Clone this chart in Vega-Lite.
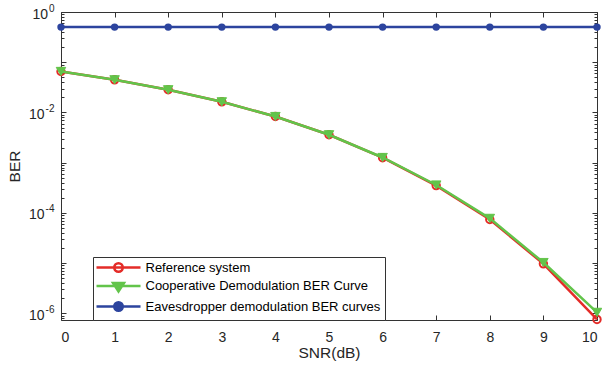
{
  "$schema": "https://vega.github.io/schema/vega-lite/v6.json",
  "width": 536,
  "height": 308,
  "autosize": {"type": "none"},
  "padding": {"left": 61, "top": 12, "right": 5, "bottom": 49},
  "config": {
    "view": {"stroke": "#333333", "strokeWidth": 1},
    "font": "Liberation Sans",
    "axis": {
      "grid": false, "domain": false,
      "labelColor": "#262626", "titleColor": "#262626", "tickColor": "#333333",
      "labelFont": "Liberation Sans", "titleFont": "Liberation Sans",
      "labelFontSize": 14, "titleFontSize": 15.5, "titleFontWeight": "normal"
    }
  },
  "data": {"values": [
    {"x": 0, "y": 0.0655, "series": "Reference system"},
    {"x": 1, "y": 0.0447, "series": "Reference system"},
    {"x": 2, "y": 0.0283, "series": "Reference system"},
    {"x": 3, "y": 0.0163, "series": "Reference system"},
    {"x": 4, "y": 0.0083, "series": "Reference system"},
    {"x": 5, "y": 0.0036, "series": "Reference system"},
    {"x": 6, "y": 0.00126, "series": "Reference system"},
    {"x": 7, "y": 0.00035, "series": "Reference system"},
    {"x": 8, "y": 0.000074, "series": "Reference system"},
    {"x": 9, "y": 0.0000097, "series": "Reference system"},
    {"x": 10, "y": 0.00000076, "series": "Reference system"},
    {"x": 0, "y": 0.0655, "series": "Cooperative Demodulation BER Curve"},
    {"x": 1, "y": 0.0447, "series": "Cooperative Demodulation BER Curve"},
    {"x": 2, "y": 0.0283, "series": "Cooperative Demodulation BER Curve"},
    {"x": 3, "y": 0.0163, "series": "Cooperative Demodulation BER Curve"},
    {"x": 4, "y": 0.0083, "series": "Cooperative Demodulation BER Curve"},
    {"x": 5, "y": 0.0036, "series": "Cooperative Demodulation BER Curve"},
    {"x": 6, "y": 0.00127, "series": "Cooperative Demodulation BER Curve"},
    {"x": 7, "y": 0.00036, "series": "Cooperative Demodulation BER Curve"},
    {"x": 8, "y": 0.000078, "series": "Cooperative Demodulation BER Curve"},
    {"x": 9, "y": 0.0000103, "series": "Cooperative Demodulation BER Curve"},
    {"x": 10, "y": 0.00000105, "series": "Cooperative Demodulation BER Curve"},
    {"x": 0, "y": 0.5, "series": "Eavesdropper demodulation BER curves"},
    {"x": 1, "y": 0.5, "series": "Eavesdropper demodulation BER curves"},
    {"x": 2, "y": 0.5, "series": "Eavesdropper demodulation BER curves"},
    {"x": 3, "y": 0.5, "series": "Eavesdropper demodulation BER curves"},
    {"x": 4, "y": 0.5, "series": "Eavesdropper demodulation BER curves"},
    {"x": 5, "y": 0.5, "series": "Eavesdropper demodulation BER curves"},
    {"x": 6, "y": 0.5, "series": "Eavesdropper demodulation BER curves"},
    {"x": 7, "y": 0.5, "series": "Eavesdropper demodulation BER curves"},
    {"x": 8, "y": 0.5, "series": "Eavesdropper demodulation BER curves"},
    {"x": 9, "y": 0.5, "series": "Eavesdropper demodulation BER curves"},
    {"x": 10, "y": 0.5, "series": "Eavesdropper demodulation BER curves"}
  ]},
  "encoding": {
    "color": {
      "field": "series", "type": "nominal",
      "scale": {
        "domain": ["Reference system", "Cooperative Demodulation BER Curve", "Eavesdropper demodulation BER curves"],
        "range": ["#e42c28", "#62c44a", "#2c449e"]
      },
      "legend": {
        "orient": "none", "legendX": 32, "legendY": 245,
        "title": null, "direction": "vertical",
        "fillColor": "white", "strokeColor": "#333333", "padding": 4,
        "labelFontSize": 13, "labelFont": "Liberation Sans", "labelColor": "#000000",
        "labelLimit": 400, "labelOffset": 20.5, "symbolOffset": 15, "rowPadding": 0.5,
        "symbolSize": 100, "symbolStrokeWidth": 2.5,
        "encode": {
          "symbols": {
            "update": {
              "shape": {"signal": "datum.value === 'Reference system' ? 'M-4.4,0H4.4M-0.85,0A0.85,0.85,0,1,0,0.85,0A0.85,0.85,0,1,0,-0.85,0Z' : datum.value === 'Cooperative Demodulation BER Curve' ? 'M-4.4,0H4.4M-1.1,-0.6L1.1,-0.6L0,1.1Z' : 'M-4.4,0H4.4M-0.85,0A0.85,0.85,0,1,0,0.85,0A0.85,0.85,0,1,0,-0.85,0Z'"},
              "fill": {"signal": "scale('color', datum.value)"},
              "fillOpacity": {"signal": "datum.value === 'Reference system' ? 0 : 1"},
              "stroke": {"signal": "scale('color', datum.value)"},
              "strokeWidth": {"value": 2.5},
              "size": {"value": 100},
              "opacity": {"value": 1}
            }
          }
        }
      }
    }
  },
  "layer": [
    {
      "transform": [{"filter": "datum.series === 'Reference system'"}],
      "mark": {"type": "line", "strokeWidth": 2.5},
      "encoding": {
        "x": {"field": "x", "type": "quantitative", "scale": {"domain": [0, 10], "nice": false, "zero": false},
              "axis": {"orient": "bottom", "values": [0,1,2,3,4,5,6,7,8,9,10], "format": "d", "ticks": false, "labelPadding": 10, "labelOverlap": false, "title": "SNR(dB)", "titlePadding": 1.5}},
        "y": {"field": "y", "type": "quantitative", "scale": {"type": "log", "domain": [0.00000074, 1], "nice": false},
              "axis": {"orient": "left", "values": [1, 0.01, 0.0001, 0.000001], "labelExpr": "'10'", "ticks": false,
                       "labelPadding": {"condition": {"test": "datum.value > 0.5", "value": 13.5}, "value": 17},
                       "labelOffset": 2, "title": "BER", "titlePadding": 6}}
      }
    },
    {
      "transform": [{"filter": "datum.series === 'Reference system'"}],
      "mark": {"type": "point", "filled": false, "strokeWidth": 2, "size": 55, "opacity": 1},
      "encoding": {
        "x": {"field": "x", "type": "quantitative", "scale": {"domain": [0, 10], "nice": false, "zero": false},
              "axis": {"orient": "bottom", "values": [0,1,2,3,4,5,6,7,8,9,10], "labels": false, "tickSize": 5, "offset": -5, "title": null}},
        "y": {"field": "y", "type": "quantitative", "scale": {"type": "log", "domain": [0.00000074, 1], "nice": false},
              "axis": {"orient": "left", "values": [1, 0.01, 0.0001, 0.000001], "ticks": false, "labelFontSize": 10, "labelPadding": 7, "labelOffset": -4,
                       "labelExpr": "datum.value > 0.5 ? '0' : '-' + round(-log(datum.value) / LN10)", "title": null}}
      }
    },
    {
      "transform": [{"filter": "datum.series === 'Cooperative Demodulation BER Curve'"}],
      "mark": {"type": "line", "strokeWidth": 2.5},
      "encoding": {
        "x": {"field": "x", "type": "quantitative", "scale": {"domain": [0, 10], "nice": false, "zero": false},
              "axis": {"orient": "top", "values": [0,1,2,3,4,5,6,7,8,9,10], "labels": false, "tickSize": 5, "offset": -5, "title": null}},
        "y": {"field": "y", "type": "quantitative", "scale": {"type": "log", "domain": [0.00000074, 1], "nice": false},
              "axis": {"orient": "left", "values": [1, 0.1, 0.01, 0.001, 0.0001, 0.00001, 0.000001], "labels": false, "tickSize": 5, "offset": -5, "title": null}}
      }
    },
    {
      "transform": [{"filter": "datum.series === 'Cooperative Demodulation BER Curve'"}],
      "mark": {"type": "point", "shape": "triangle-down", "filled": true, "size": 90, "stroke": "#62c44a", "strokeWidth": 1, "opacity": 1},
      "encoding": {
        "x": {"field": "x", "type": "quantitative", "scale": {"domain": [0, 10], "nice": false, "zero": false}, "axis": null},
        "y": {"field": "y", "type": "quantitative", "scale": {"type": "log", "domain": [0.00000074, 1], "nice": false},
              "axis": {"orient": "left", "values": [0.0000008, 0.0000009, 0.000002, 0.000003, 0.000004, 0.000005, 0.000006, 0.000007, 0.000008, 0.000009, 0.00002, 0.00003, 0.00004, 0.00005, 0.00006, 0.00007, 0.00008, 0.00009, 0.0002, 0.0003, 0.0004, 0.0005, 0.0006, 0.0007, 0.0008, 0.0009, 0.002, 0.003, 0.004, 0.005, 0.006, 0.007, 0.008, 0.009, 0.02, 0.03, 0.04, 0.05, 0.06, 0.07, 0.08, 0.09, 0.2, 0.3, 0.4, 0.5, 0.6, 0.7, 0.8, 0.9], "labels": false, "tickSize": 3, "offset": -3, "title": null}}
      }
    },
    {
      "transform": [{"filter": "datum.series === 'Eavesdropper demodulation BER curves'"}],
      "mark": {"type": "line", "strokeWidth": 2.5},
      "encoding": {
        "x": {"field": "x", "type": "quantitative", "scale": {"domain": [0, 10], "nice": false, "zero": false}, "axis": null},
        "y": {"field": "y", "type": "quantitative", "scale": {"type": "log", "domain": [0.00000074, 1], "nice": false},
              "axis": {"orient": "right", "values": [1, 0.1, 0.01, 0.001, 0.0001, 0.00001, 0.000001], "labels": false, "tickSize": 5, "offset": -5, "title": null}}
      }
    },
    {
      "transform": [{"filter": "datum.series === 'Eavesdropper demodulation BER curves'"}],
      "mark": {"type": "point", "shape": "circle", "filled": true, "size": 55, "opacity": 1},
      "encoding": {
        "x": {"field": "x", "type": "quantitative", "scale": {"domain": [0, 10], "nice": false, "zero": false}, "axis": null},
        "y": {"field": "y", "type": "quantitative", "scale": {"type": "log", "domain": [0.00000074, 1], "nice": false},
              "axis": {"orient": "right", "values": [0.0000008, 0.0000009, 0.000002, 0.000003, 0.000004, 0.000005, 0.000006, 0.000007, 0.000008, 0.000009, 0.00002, 0.00003, 0.00004, 0.00005, 0.00006, 0.00007, 0.00008, 0.00009, 0.0002, 0.0003, 0.0004, 0.0005, 0.0006, 0.0007, 0.0008, 0.0009, 0.002, 0.003, 0.004, 0.005, 0.006, 0.007, 0.008, 0.009, 0.02, 0.03, 0.04, 0.05, 0.06, 0.07, 0.08, 0.09, 0.2, 0.3, 0.4, 0.5, 0.6, 0.7, 0.8, 0.9], "labels": false, "tickSize": 3, "offset": -3, "title": null}}
      }
    }
  ],
  "resolve": {"axis": {"x": "independent", "y": "independent"}}
}
